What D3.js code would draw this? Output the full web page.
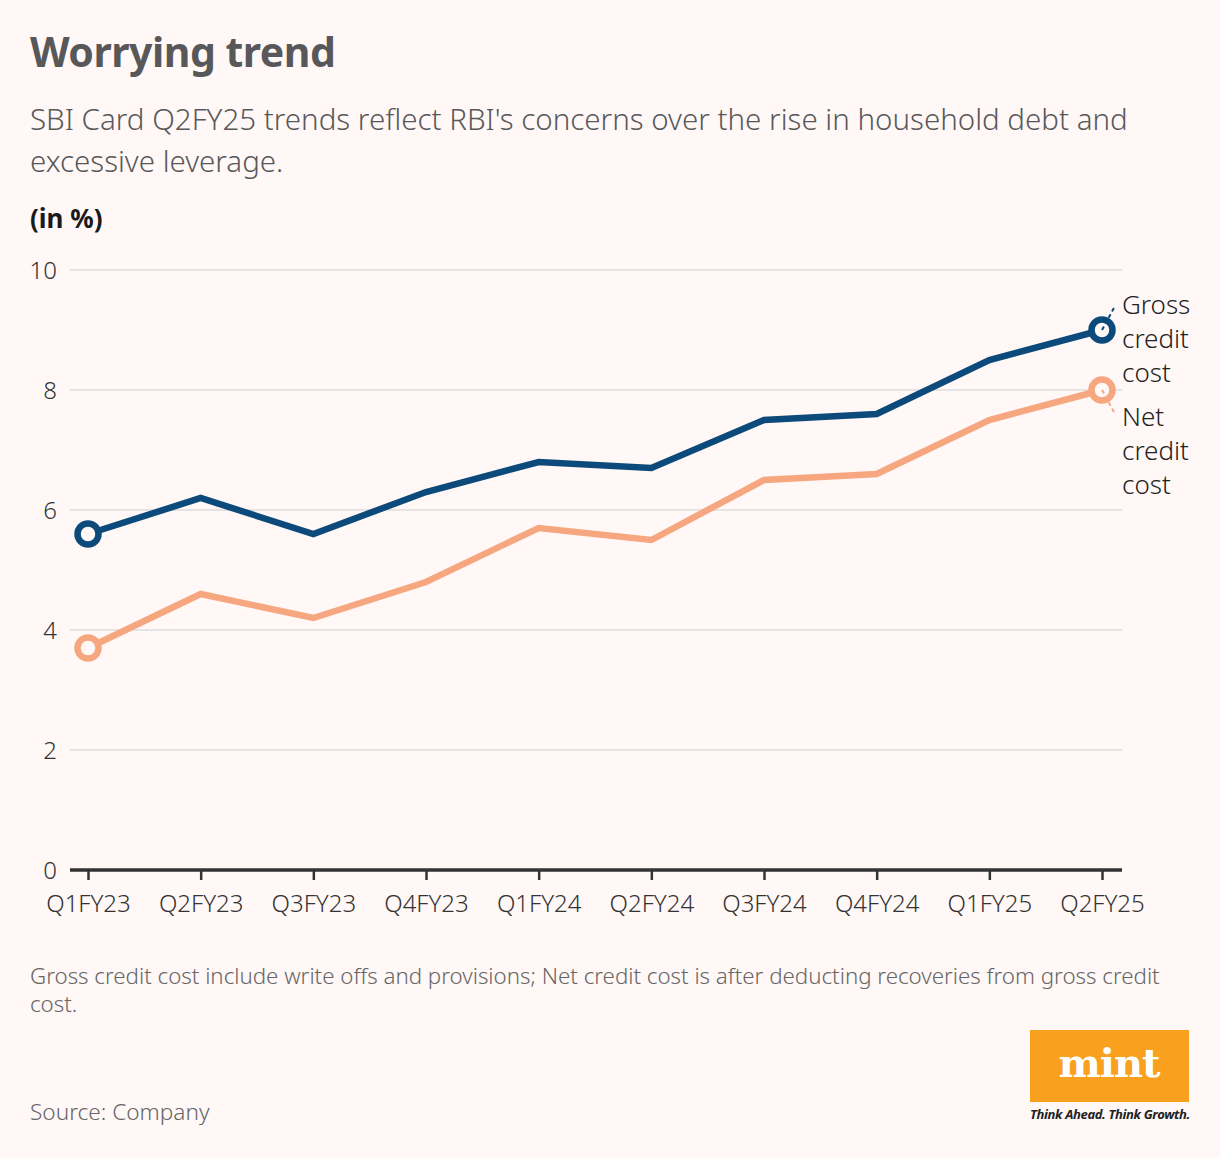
<!DOCTYPE html>
<html><head><meta charset="utf-8">
<script src="https://cdn.jsdelivr.net/npm/d3@7"></script>
<style>
html,body{margin:0;padding:0;background:#fff8f7;}
svg{display:block;font-family:"Noto Sans","Open Sans",sans-serif;}
</style></head>
<body><svg id="c" width="1220" height="1158"></svg>
<script>
const categories = ["Q1FY23","Q2FY23","Q3FY23","Q4FY23","Q1FY24","Q2FY24","Q3FY24","Q4FY24","Q1FY25","Q2FY25"];
const grossCreditCost = [5.6,6.2,5.6,6.3,6.8,6.7,7.5,7.6,8.5,9.0];
const netCreditCost = [3.7,4.6,4.2,4.8,5.7,5.5,6.5,6.6,7.5,8.0];
const yTicks = [0,2,4,6,8,10];
const seriesNames = [["Gross","credit","cost"],["Net","credit","cost"]];

const svg = d3.select("#c");
const bg = "#fff8f7";
svg.append("rect").attr("width",1220).attr("height",1158).attr("fill",bg);

svg.append("text").attr("x",30).attr("y",67).attr("font-size",41).attr("font-weight",700)
  .attr("fill","#58585a").attr("letter-spacing",-0.5).text("Worrying trend");
svg.append("text").attr("x",30).attr("y",130).attr("font-size",29.5).attr("font-weight",300).attr("fill","#58585a")
  .text("SBI Card Q2FY25 trends reflect RBI's concerns over the rise in household debt and");
svg.append("text").attr("x",30).attr("y",172).attr("font-size",29.5).attr("font-weight",300).attr("fill","#58585a")
  .text("excessive leverage.");
svg.append("text").attr("x",30).attr("y",228).attr("font-size",26).attr("font-weight",700)
  .attr("fill","#1a1a1a").text("(in %)");

const x = d3.scalePoint().domain(categories).range([88,1102]);
const y = d3.scaleLinear().domain([0,10]).range([870,270]);

// grid
const grid = svg.append("g");
grid.selectAll("line").data(yTicks.filter(d=>d>0)).join("line")
  .attr("x1",70).attr("x2",1122).attr("y1",d=>y(d)).attr("y2",d=>y(d))
  .attr("stroke","#dcdcdc").attr("stroke-width",1.5);
svg.append("g").selectAll("text").data(yTicks).join("text")
  .attr("x",57).attr("y",d=>y(d)+9).attr("text-anchor","end")
  .attr("font-size",24).attr("font-weight",300).attr("fill","#333").text(d=>d);

// x axis
const xa = svg.append("g").attr("transform","translate(0,870)")
  .call(d3.axisBottom(x).tickSize(10).tickPadding(10).tickSizeOuter(0));
xa.select(".domain").remove();
xa.append("line").attr("x1",70).attr("x2",1122).attr("y1",0).attr("y2",0)
  .attr("stroke","#333").attr("stroke-width",3.5);
xa.selectAll(".tick line").attr("stroke","#333").attr("stroke-width",2.5);
xa.selectAll(".tick text").attr("font-size",24).attr("font-weight",300).attr("fill","#333")
  .attr("font-family","\"Noto Sans\",sans-serif").attr("dy","0.9em");

const colors = ["#0b4a7a","#f7a77f"];
const line = d3.line().x((d,i)=>x(categories[i])).y(d=>y(d));
[grossCreditCost, netCreditCost].forEach((vals,k)=>{
  svg.append("path").datum(vals).attr("d",line).attr("fill","none")
    .attr("stroke",colors[k]).attr("stroke-width",6.5).attr("stroke-linejoin","miter");
  [0, vals.length-1].forEach(i=>{
    svg.append("circle").attr("cx",x(categories[i])).attr("cy",y(vals[i])).attr("r",10.5)
      .attr("fill",bg).attr("stroke",colors[k]).attr("stroke-width",6.5);
  });
});

// end labels with dashed connectors
const lastX = x(categories[categories.length-1]);
const gy = y(grossCreditCost[grossCreditCost.length-1]);
const ny = y(netCreditCost[netCreditCost.length-1]);
svg.append("line").attr("x1",lastX).attr("y1",gy).attr("x2",lastX+13).attr("y2",gy-24)
  .attr("stroke",colors[0]).attr("stroke-width",2).attr("stroke-dasharray","4,3");
svg.append("line").attr("x1",lastX).attr("y1",ny).attr("x2",lastX+13).attr("y2",ny+24)
  .attr("stroke",colors[1]).attr("stroke-width",2).attr("stroke-dasharray","4,3");
const labelTop = [314, 426];
seriesNames.forEach((lines,k)=>{
  svg.append("g").selectAll("text").data(lines).join("text")
    .attr("x",1122).attr("y",(d,i)=>labelTop[k]+i*34)
    .attr("font-size",26).attr("font-weight",300).attr("fill","#222").text(d=>d);
});

svg.append("text").attr("x",30).attr("y",984).attr("font-size",22.3).attr("font-weight",300).attr("fill","#666")
  .text("Gross credit cost include write offs and provisions; Net credit cost is after deducting recoveries from gross credit");
svg.append("text").attr("x",30).attr("y",1012).attr("font-size",22.3).attr("font-weight",300).attr("fill","#666").text("cost.");
svg.append("text").attr("x",30).attr("y",1120).attr("font-size",22.6).attr("font-weight",300).attr("fill","#666").text("Source: Company");

// logo
svg.append("rect").attr("x",1030).attr("y",1030).attr("width",159).attr("height",72).attr("fill","#f9a11f");
svg.append("text").attr("x",1109).attr("y",1077).attr("text-anchor","middle")
  .attr("font-family","\"DejaVu Serif\",serif").attr("font-weight",700).attr("font-size",40)
  .attr("fill","#fff").attr("letter-spacing",-1).text("mint");
svg.append("text").attr("x",1030).attr("y",1119).attr("font-size",13).attr("font-style","italic")
  .attr("font-weight",700).attr("fill","#222").attr("letter-spacing",-0.35).text("Think Ahead. Think Growth.");
</script></body></html>
